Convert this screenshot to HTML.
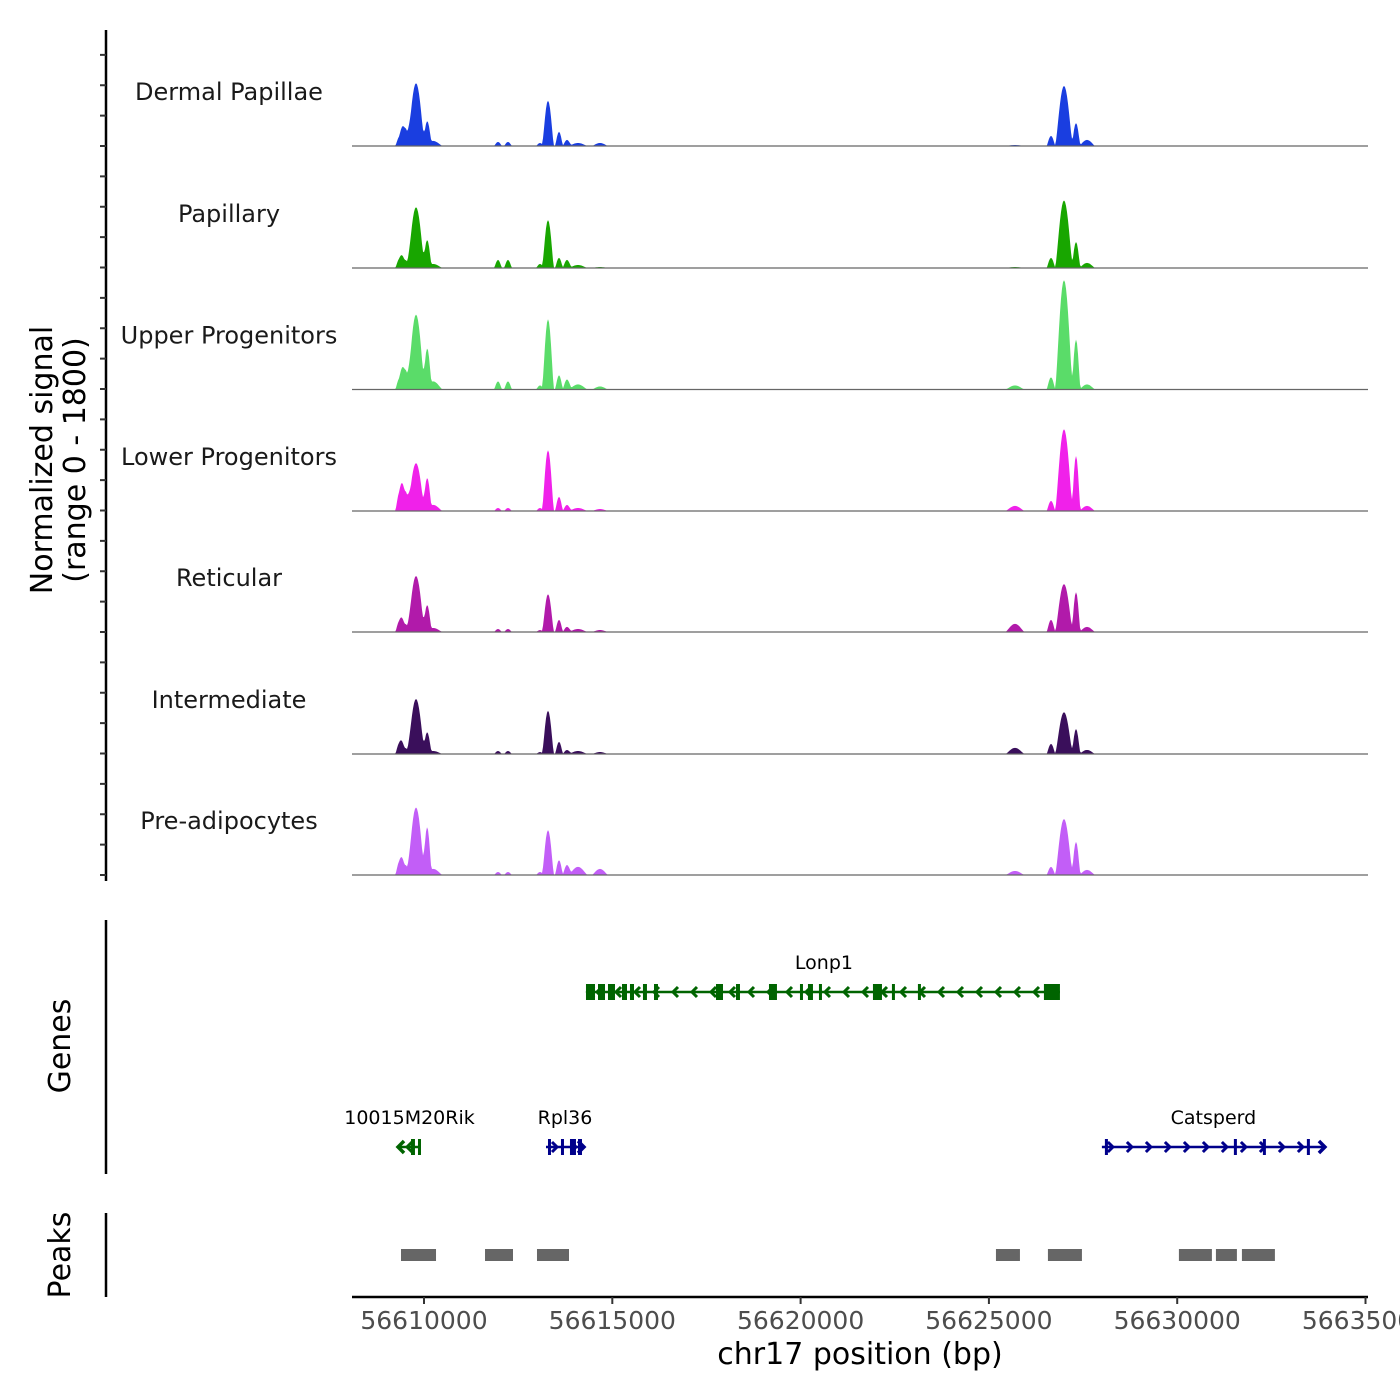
<!DOCTYPE html>
<html><head><meta charset="utf-8">
<style>
html,body{margin:0;padding:0;background:#fff;width:1400px;height:1400px;overflow:hidden}
svg{display:block;font-family:"DejaVu Sans","Liberation Sans",sans-serif}
</style></head>
<body>
<svg id="chart" width="1400" height="1400" viewBox="0 0 1400 1400"></svg>
<script>
// ---- data ----
const trackNames = ["Dermal Papillae","Papillary","Upper Progenitors","Lower Progenitors","Reticular","Intermediate","Pre-adipocytes"];
const trackColors = ["#1a3ee0","#18a600","#5adc69","#f021ea","#b11aaa","#3a0f5b","#c25ef7"];
const peakCenters = [56609363,56609495,56609788,56610080,56610239,56611965,56612230,56613080,56613293,56613585,56613797,56614089,56614673,56625693,56626649,56626994,56627313,56627605];
const peakHalfWidths = [130,160,240,120,260,110,110,110,160,110,120,260,220,260,120,240,120,220];
const sigDermal   = [150,270,930,330,75,60,60,45,670,210,90,45,45,15,150,890,340,90];
const sigPapillary= [150,120,900,385,60,120,120,60,710,150,120,45,15,15,150,1000,385,75];
const sigUpper    = [180,300,1110,550,120,120,120,60,1040,210,150,75,45,60,180,1620,740,75];
const sigLower    = [300,300,710,445,90,45,45,45,900,210,90,45,30,75,150,1210,815,75];
const sigReticular= [180,120,830,370,60,45,45,30,560,180,75,45,30,120,180,710,590,75];
const sigInterm   = [180,90,815,300,45,45,45,30,640,180,60,45,30,90,150,620,370,60];
const sigPreadipo = [220,150,1000,665,90,45,45,45,665,220,150,120,90,60,120,830,490,75];
const signals = [sigDermal,sigPapillary,sigUpper,sigLower,sigReticular,sigInterm,sigPreadipo];
const xTicks = [56610000,56615000,56620000,56625000,56630000,56635000];
const xTickLabels = ["56610000","56615000","56620000","56625000","56630000","56635000"];
const geneNames = ["Lonp1","10015M20Rik","Rpl36","Catsperd"];
const geneStarts = [56614354,56609310,56613239,56628000];
const geneEnds = [56626886,56609920,56614248,56633922];
const geneStrands = [-1,-1,1,1];
const geneRows = [0,1,1,1];
const geneColors = ["#006400","#006400","#00008b","#00008b"];
const geneExons = [
 [[56614301,56614540],[56614620,56614806],[56614885,56615071],[56615257,56615390],[56615469,56615576],[56615814,56615920],[56616107,56616213],[56617753,56617939],[56618284,56618390],[56619160,56619372],[56619983,56620062],[56620195,56620328],[56620487,56620540],[56621921,56622160],[56622425,56622479],[56623115,56623169],[56626461,56626886]],
 [[56609655,56609760],[56609840,56609920]],
 [[56613292,56613345],[56613637,56613690],[56613876,56614035],[56614089,56614195]],
 [[56628080,56628160],[56631505,56631558],[56632275,56632328],[56633443,56633523]]
];
const peakStarts = [56609389,56611620,56613000,56625187,56626567,56630045,56631028,56631718];
const peakEnds   = [56610319,56612363,56613850,56625824,56627470,56630921,56631585,56632594];

// ---- scales ----
const X0=352,X1=1368, BP0=56608088, BP1=56635066;
const xs = bp => X0 + (bp-BP0)/(BP1-BP0)*(X1-X0);
const baselines=[146,268,389.5,511,632,754,875];
const trackH=121.5, yMax=1800;
const ys = (v,i) => baselines[i] - v/yMax*trackH;

const NS="http://www.w3.org/2000/svg";
const svg=document.getElementById('chart');
function mk(tag,attrs,parent){const e=document.createElementNS(NS,tag);for(const k in attrs)e.setAttribute(k,attrs[k]);(parent||svg).appendChild(e);return e;}

// left axis + ticks
mk('line',{x1:106,y1:30,x2:106,y2:881,stroke:'#000','stroke-width':2.5,});
for(let y=146-3*30.375;y<=881;y+=30.375){
  const t=mk('line',{x1:100,y1:y,x2:106,y2:y,stroke:'#333','stroke-width':2});
  
  
}
// y title
const yt=mk('text',{transform:'translate(52,460) rotate(-90)','text-anchor':'middle','font-size':30,fill:'#000',});
yt.textContent='Normalized signal';
const yt2=mk('text',{transform:'translate(85,460) rotate(-90)','text-anchor':'middle','font-size':30,fill:'#000',});
yt2.textContent='(range 0 - 1800)';

// signal tracks
signals.forEach((sig,i)=>{
  const g=mk('g',{});
  
  
  const lab=mk('text',{x:229,y:baselines[i]-46,'text-anchor':'middle','font-size':24,fill:'#1a1a1a'},g);
  lab.textContent=trackNames[i];
  
  
  let d='M'+X0+','+baselines[i];
  for(let px=X0;px<=X1;px+=1){
    const bp=BP0+(px-X0)/(X1-X0)*(BP1-BP0);
    let v=0;
    for(let k=0;k<peakCenters.length;k++){
      const u=(bp-peakCenters[k])/peakHalfWidths[k];
      if(Math.abs(u)<1) v+=sig[k]*Math.pow(1-u*u,1.6);
    }
    d+=' L'+px+','+ys(Math.min(v,yMax),i).toFixed(1);
  }
  d+=' L'+X1+','+baselines[i]+' Z';
  const p=mk('path',{d:d,fill:trackColors[i],stroke:'none'},g);
  
  
  const bl=mk('line',{x1:X0,y1:baselines[i],x2:X1,y2:baselines[i],stroke:'#666','stroke-width':1.2},g);
  
  
});

// genes panel
mk('line',{x1:106,y1:920,x2:106,y2:1174,stroke:'#000','stroke-width':2.5,});
const gt=mk('text',{transform:'translate(70,1046) rotate(-90)','text-anchor':'middle','font-size':30,fill:'#000',});
gt.textContent='Genes';
const rowY=[992,1147];
geneNames.forEach((name,i)=>{
  const g=mk('g',{});
  
  
  const y=rowY[geneRows[i]], c=geneColors[i];
  const a=xs(geneStarts[i]), b=xs(geneEnds[i]);
  mk('line',{x1:a,y1:y,x2:b,y2:y,stroke:c,'stroke-width':2.5},g);
  const dir=geneStrands[i];
  for(let px=a+10;px<b-6;px+=19){
    const pts = dir<0 ? `${px+4},${y-5} ${px-1},${y} ${px+4},${y+5}` : `${px-4},${y-5} ${px+1},${y} ${px-4},${y+5}`;
    mk('polyline',{points:pts,fill:'none',stroke:c,'stroke-width':3},g);
  }
  if(dir<0) mk('polyline',{points:`${a+6},${y-6} ${a},${y} ${a+6},${y+6}`,fill:'none',stroke:c,'stroke-width':3.5},g);
  else mk('polyline',{points:`${b-6},${y-6} ${b},${y} ${b-6},${y+6}`,fill:'none',stroke:c,'stroke-width':3.5},g);
  geneExons[i].forEach(e=>{
    const ea=xs(e[0]), eb=xs(e[1]);
    const r=mk('rect',{x:ea,y:y-8,width:Math.max(3,eb-ea),height:16,fill:c},g);
    
    
  });
  const lab=mk('text',{x:(a+b)/2,y:y-23,'text-anchor':'middle','font-size':19,fill:'#000'},g);
  lab.textContent=name;
  
  
});

// peaks panel
mk('line',{x1:106,y1:1213,x2:106,y2:1297,stroke:'#000','stroke-width':2.5,});
const pt=mk('text',{transform:'translate(70,1255) rotate(-90)','text-anchor':'middle','font-size':30,fill:'#000',});
pt.textContent='Peaks';
peakStarts.forEach((s,i)=>{
  const r=mk('rect',{x:xs(s),y:1249,width:xs(peakEnds[i])-xs(s),height:12,fill:'#666'});
  
  
});

// x axis
mk('line',{x1:X0,y1:1297,x2:X1,y2:1297,stroke:'#000','stroke-width':2.5,});
xTicks.forEach((t,i)=>{
  const x=xs(t);
  const tk=mk('line',{x1:x,y1:1297,x2:x,y2:1304,stroke:'#333','stroke-width':2});
  
  
  const lb=mk('text',{x:x,y:1329,'text-anchor':'middle','font-size':25,fill:'#4d4d4d'});
  lb.textContent=xTickLabels[i];
  
  
});
const xt=mk('text',{x:860,y:1364,'text-anchor':'middle','font-size':30,fill:'#000',});
xt.textContent='chr17 position (bp)';
</script>
</body></html>
